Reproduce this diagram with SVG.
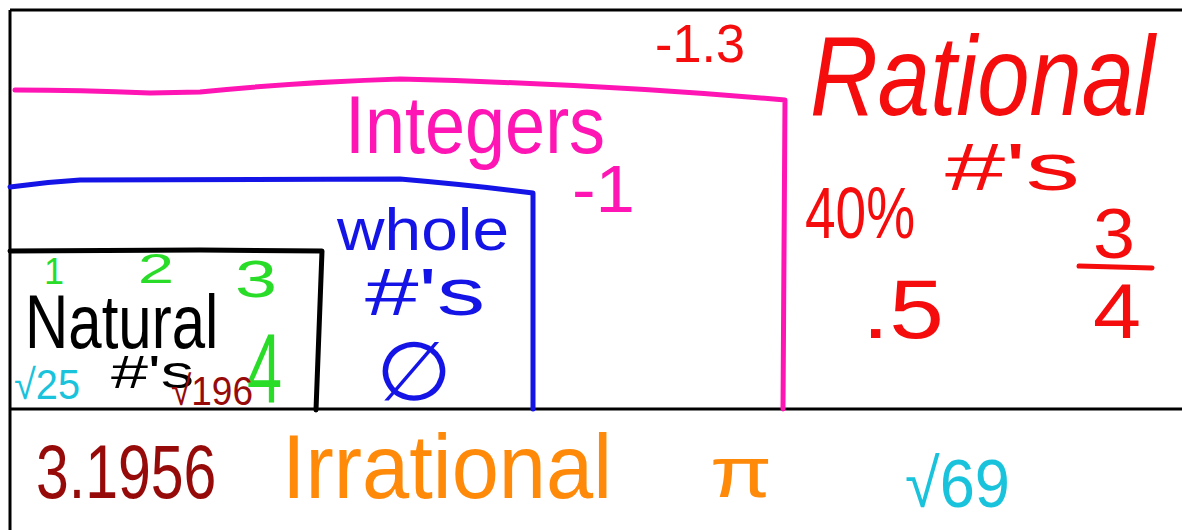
<svg xmlns="http://www.w3.org/2000/svg" width="1182" height="530" viewBox="0 0 1182 530">
<style>
.t{font-family:"Liberation Sans","DejaVu Sans",sans-serif}
.s{fill:none;stroke-width:5;stroke-linecap:round;stroke-linejoin:round}
.pink{fill:#ff14b4}.pinks{stroke:#ff14b4}
.blue{fill:#1414e6}.blues{stroke:#1414e6}
.red{fill:#f50c0c}.reds{stroke:#f50c0c}
.green{fill:#28dc28}
.cyan{fill:#19c3dc}
.dred{fill:#960a0a}
.orange{fill:#ff8a0a}
.blk{fill:#000}
</style>
<rect width="1182" height="530" fill="#fff"/>
<g id="frame">
<path fill="none" stroke="#000" stroke-width="3" d="M10 10 H1182 M10 10 V530 M10 409 H1182"/>
</g>
<g id="rational">
<text class="t red" x="655" y="62" font-size="54" textLength="90" lengthAdjust="spacingAndGlyphs">-1.3</text>
<text class="t red" transform="translate(810,115) scale(1,1.2)" x="0" y="0" font-size="94" font-style="italic">Rational</text>
<text class="t red" x="945" y="190" font-size="66" textLength="135" lengthAdjust="spacingAndGlyphs">#'s</text>
<text class="t red" transform="translate(805,238) scale(1,1.3)" x="0" y="0" font-size="55">40%</text>
<text class="t red" x="862" y="338" font-size="84" textLength="82" lengthAdjust="spacingAndGlyphs">.5</text>
<text class="t red" x="1093" y="258" font-size="70" textLength="42" lengthAdjust="spacingAndGlyphs">3</text>
<path class="s reds" d="M1079 266 L1152 268"/>
<text class="t red" x="1093" y="338" font-size="78" textLength="48" lengthAdjust="spacingAndGlyphs">4</text>
</g>
<g id="integers">
<path class="s pinks" d="M15 90 Q80 90 150 93 L200 92 Q300 82 400 79 Q600 84 785 100 L783 409"/>
<text class="t pink" transform="translate(345,153) scale(1,1.14)" x="0" y="0" font-size="72">Integers</text>
<text class="t pink" x="572" y="212" font-size="66" textLength="63" lengthAdjust="spacingAndGlyphs">-1</text>
</g>
<g id="whole">
<path class="s blues" d="M10 187 Q45 182 80 180 L400 179 Q470 185 533 193 L533 409"/>
<text class="t blue" x="337" y="250" font-size="60" textLength="172" lengthAdjust="spacingAndGlyphs">whole</text>
<text class="t blue" x="365" y="315" font-size="66" textLength="120" lengthAdjust="spacingAndGlyphs">#'s</text>
<text class="t blue" x="376" y="400" font-size="82" font-family="DejaVu Sans,sans-serif" textLength="76" lengthAdjust="spacingAndGlyphs">∅</text>
</g>
<g id="natural">
<path class="s" stroke="#000" d="M10 251 L200 250 L322 251 L316 410"/>
<text class="t green" x="44" y="284" font-size="36">1</text>
<text class="t green" x="138" y="283" font-size="42" textLength="36" lengthAdjust="spacingAndGlyphs">2</text>
<text class="t green" x="235" y="297" font-size="52" textLength="42" lengthAdjust="spacingAndGlyphs">3</text>
<text class="t green" transform="translate(247,402) scale(1,1.55)" x="0" y="0" font-size="63">4</text>
<text class="t blk" transform="translate(25,348) scale(1,1.26)" x="0" y="0" font-size="60">Natural</text>
<text class="t blk" x="111" y="388" font-size="46" textLength="83" lengthAdjust="spacingAndGlyphs">#'s</text>
<text class="t cyan" x="14" y="399" font-size="42" textLength="66" lengthAdjust="spacingAndGlyphs">√25</text>
<text class="t dred" transform="translate(171,405) scale(1,1.12)" x="0" y="0" font-size="37">√196</text>
</g>
<g id="irrational">
<text class="t dred" transform="translate(36,498) scale(1,1.3)" x="0" y="0" font-size="59">3.1956</text>
<text class="t orange" x="282" y="498" font-size="90" textLength="330" lengthAdjust="spacingAndGlyphs">Irrational</text>
<text class="t orange" x="710" y="497" font-size="72" textLength="62" lengthAdjust="spacingAndGlyphs">π</text>
<text class="t cyan" x="905" y="507" font-size="68" textLength="105" lengthAdjust="spacingAndGlyphs">√69</text>
</g>
</svg>
